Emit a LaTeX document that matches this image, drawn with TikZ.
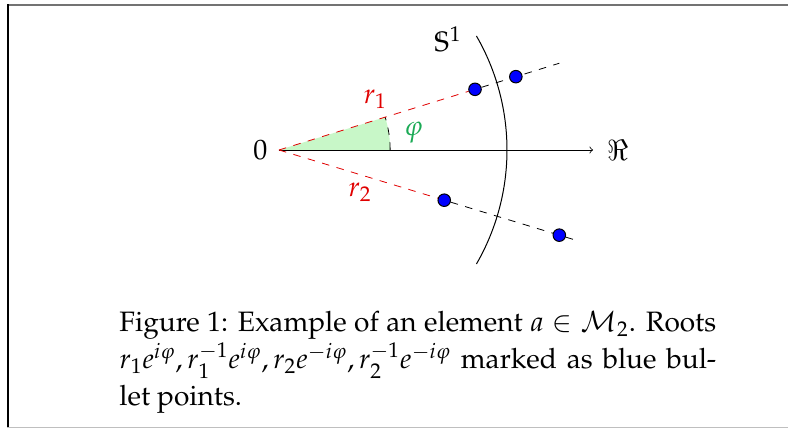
\documentclass[tikz,border=0pt]{standalone}
\usepackage[T1]{fontenc}
\usepackage{mathpazo}
\usepackage{amssymb}
\usetikzlibrary{positioning,calc,backgrounds}
\definecolor{cRay}{HTML}{E00000}
\definecolor{cAng}{HTML}{1AAA55}
\definecolor{cSec}{HTML}{C8F7C8}
\definecolor{cRoot}{HTML}{0000FF}
\newcommand{\figfont}{\fontsize{14pt}{18.3pt}\selectfont}
\tikzset{
  longdash/.style = {dash pattern=on 3.75pt off 3.75pt},
  axis/.style   = {-to, draw=black},
  ray/.style    = {longdash, draw=cRay},
  tail/.style   = {longdash, draw=black},
  root/.style   = {circle, draw=black, fill=cRoot, inner sep=0pt,
                   minimum size=2.2mm},
  lbl/.style    = {inner sep=1pt},
  frameline/.style = {line width=0.85pt},
}

\begin{document}
\begin{tikzpicture}[font=\figfont, line width=0.5pt]
  \useasboundingbox (-4.8947,-4.8947) rectangle (8.9298,2.6316);
  % page frame (top, left, bottom)
  \draw[frameline, draw=black!55] (-4.77,2.548) -- (8.93,2.548);
  \draw[frameline, draw=black] (-4.758,2.56) -- (-4.758,-4.87);
  \draw[frameline, draw=black!25] (-4.77,-4.868) -- (8.93,-4.868);
  % roots and ray ends
  \coordinate (O) at (0,0);
  \coordinate (re) at (5.51,0);
  \coordinate (end1) at (17.2:5.15);
  \coordinate (end2) at (-16.9:5.42);
  \node[root] (p1) at (17.2:3.6) {};
  \node[root] (q1) at (17.2:4.35) {};
  \node[root] (p2) at (-16.9:3.03) {};
  \node[root] (q2) at (-16.9:5.14) {};
  % axis, sector and rays below the roots
  \begin{scope}[on background layer]
    \draw[axis] (O) -- (re);
    \fill[cSec] (O) -- (1.95,0) arc (0:17.2:1.95) -- cycle;
    \draw[longdash] (1.95,0) arc (0:17.2:1.95);
    \draw[ray] (O) -- (p1);
    \draw[tail] (p1) -- (end1);
    \draw[ray] (O) -- (p2);
    \draw[tail] (p2) -- (end2);
  \end{scope}
  % unit circle
  \draw (-30:4) arc (-30:30:4);
  % labels
  \node[lbl, left=0.16cm of O] (zero) {$0$};
  \node[lbl, right=0.2cm of re] (real) {$\Re$};
  \node[lbl] (circ) at (2.965,1.947) {$\mathbb{S}^1$};
  \node[lbl, text=cRay] (r1) at (1.69,0.895) {$r_1$};
  \node[lbl, text=cRay] (r2) at (1.42,-0.74) {$r_2$};
  \node[lbl, text=cAng] (phi) at (2.36,0.30) {$\varphi$};
  % caption
  \node[anchor=base west, text width=10.47cm, align=justify, inner sep=0pt]
    (cap) at (-2.807,-3.193)
    {Figure 1: Example of an element $a \in \mathcal{M}_2$. Roots\linebreak
     $r_1e^{i\varphi}, r_1^{-1}e^{i\varphi}, r_2e^{-i\varphi}, r_2^{-1}e^{-i\varphi}$
     marked as blue bul-\linebreak let points.};
\end{tikzpicture}
\end{document}
